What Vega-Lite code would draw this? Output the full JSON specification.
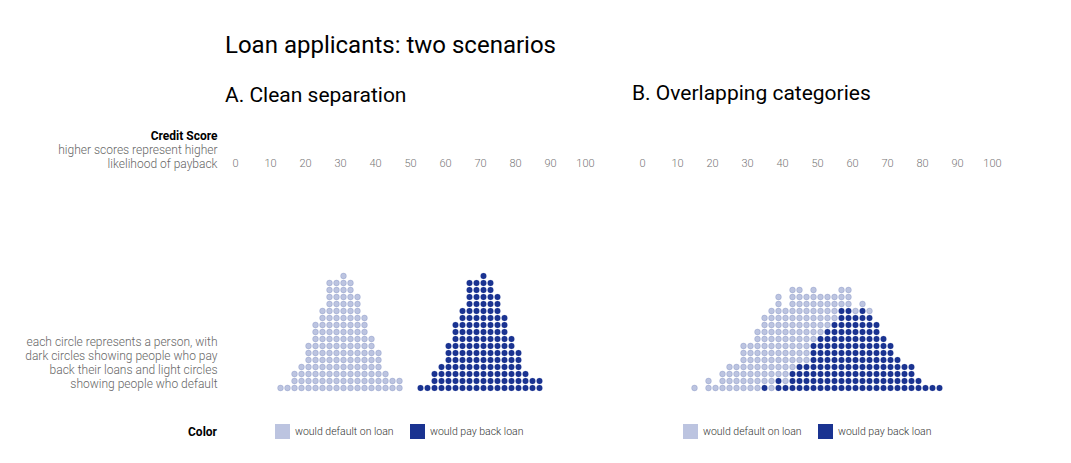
{
"$schema": "https://vega.github.io/schema/vega-lite/v6.json",
"padding": {"left": 24, "top": 34, "right": 5, "bottom": 5},
"background": "white",
"config": {"view": {"stroke": null}, "font": "Roboto"},
"title": {"text": "Loan applicants: two scenarios", "anchor": "start", "frame": "group", "font": "Roboto", "fontSize": 24, "fontWeight": 400, "color": "#000000", "offset": 25},
"bounds": "flush",
"spacing": 37,
"resolve": {"scale": {"color": "independent"}, "legend": {"color": "independent"}},
"datasets": {
"A": [
{"s":13,"o":"d"},
{"s":15,"o":"d"},
{"s":17,"o":"d"},{"s":17,"o":"d"},{"s":17,"o":"d"},
{"s":19,"o":"d"},{"s":19,"o":"d"},{"s":19,"o":"d"},{"s":19,"o":"d"},
{"s":21,"o":"d"},{"s":21,"o":"d"},{"s":21,"o":"d"},{"s":21,"o":"d"},{"s":21,"o":"d"},{"s":21,"o":"d"},{"s":21,"o":"d"},
{"s":23,"o":"d"},{"s":23,"o":"d"},{"s":23,"o":"d"},{"s":23,"o":"d"},{"s":23,"o":"d"},{"s":23,"o":"d"},{"s":23,"o":"d"},{"s":23,"o":"d"},{"s":23,"o":"d"},{"s":23,"o":"d"},
{"s":25,"o":"d"},{"s":25,"o":"d"},{"s":25,"o":"d"},{"s":25,"o":"d"},{"s":25,"o":"d"},{"s":25,"o":"d"},{"s":25,"o":"d"},{"s":25,"o":"d"},{"s":25,"o":"d"},{"s":25,"o":"d"},{"s":25,"o":"d"},{"s":25,"o":"d"},
{"s":27,"o":"d"},{"s":27,"o":"d"},{"s":27,"o":"d"},{"s":27,"o":"d"},{"s":27,"o":"d"},{"s":27,"o":"d"},{"s":27,"o":"d"},{"s":27,"o":"d"},{"s":27,"o":"d"},{"s":27,"o":"d"},{"s":27,"o":"d"},{"s":27,"o":"d"},{"s":27,"o":"d"},{"s":27,"o":"d"},{"s":27,"o":"d"},{"s":27,"o":"d"},
{"s":29,"o":"d"},{"s":29,"o":"d"},{"s":29,"o":"d"},{"s":29,"o":"d"},{"s":29,"o":"d"},{"s":29,"o":"d"},{"s":29,"o":"d"},{"s":29,"o":"d"},{"s":29,"o":"d"},{"s":29,"o":"d"},{"s":29,"o":"d"},{"s":29,"o":"d"},{"s":29,"o":"d"},{"s":29,"o":"d"},{"s":29,"o":"d"},{"s":29,"o":"d"},
{"s":31,"o":"d"},{"s":31,"o":"d"},{"s":31,"o":"d"},{"s":31,"o":"d"},{"s":31,"o":"d"},{"s":31,"o":"d"},{"s":31,"o":"d"},{"s":31,"o":"d"},{"s":31,"o":"d"},{"s":31,"o":"d"},{"s":31,"o":"d"},{"s":31,"o":"d"},{"s":31,"o":"d"},{"s":31,"o":"d"},{"s":31,"o":"d"},{"s":31,"o":"d"},{"s":31,"o":"d"},
{"s":33,"o":"d"},{"s":33,"o":"d"},{"s":33,"o":"d"},{"s":33,"o":"d"},{"s":33,"o":"d"},{"s":33,"o":"d"},{"s":33,"o":"d"},{"s":33,"o":"d"},{"s":33,"o":"d"},{"s":33,"o":"d"},{"s":33,"o":"d"},{"s":33,"o":"d"},{"s":33,"o":"d"},{"s":33,"o":"d"},{"s":33,"o":"d"},{"s":33,"o":"d"},
{"s":35,"o":"d"},{"s":35,"o":"d"},{"s":35,"o":"d"},{"s":35,"o":"d"},{"s":35,"o":"d"},{"s":35,"o":"d"},{"s":35,"o":"d"},{"s":35,"o":"d"},{"s":35,"o":"d"},{"s":35,"o":"d"},{"s":35,"o":"d"},{"s":35,"o":"d"},{"s":35,"o":"d"},{"s":35,"o":"d"},
{"s":37,"o":"d"},{"s":37,"o":"d"},{"s":37,"o":"d"},{"s":37,"o":"d"},{"s":37,"o":"d"},{"s":37,"o":"d"},{"s":37,"o":"d"},{"s":37,"o":"d"},{"s":37,"o":"d"},{"s":37,"o":"d"},{"s":37,"o":"d"},
{"s":39,"o":"d"},{"s":39,"o":"d"},{"s":39,"o":"d"},{"s":39,"o":"d"},{"s":39,"o":"d"},{"s":39,"o":"d"},{"s":39,"o":"d"},{"s":39,"o":"d"},
{"s":41,"o":"d"},{"s":41,"o":"d"},{"s":41,"o":"d"},{"s":41,"o":"d"},{"s":41,"o":"d"},{"s":41,"o":"d"},
{"s":43,"o":"d"},{"s":43,"o":"d"},{"s":43,"o":"d"},
{"s":45,"o":"d"},{"s":45,"o":"d"},
{"s":47,"o":"d"},{"s":47,"o":"d"},
{"s":53,"o":"p"},
{"s":55,"o":"p"},
{"s":57,"o":"p"},{"s":57,"o":"p"},{"s":57,"o":"p"},
{"s":59,"o":"p"},{"s":59,"o":"p"},{"s":59,"o":"p"},{"s":59,"o":"p"},
{"s":61,"o":"p"},{"s":61,"o":"p"},{"s":61,"o":"p"},{"s":61,"o":"p"},{"s":61,"o":"p"},{"s":61,"o":"p"},{"s":61,"o":"p"},
{"s":63,"o":"p"},{"s":63,"o":"p"},{"s":63,"o":"p"},{"s":63,"o":"p"},{"s":63,"o":"p"},{"s":63,"o":"p"},{"s":63,"o":"p"},{"s":63,"o":"p"},{"s":63,"o":"p"},{"s":63,"o":"p"},
{"s":65,"o":"p"},{"s":65,"o":"p"},{"s":65,"o":"p"},{"s":65,"o":"p"},{"s":65,"o":"p"},{"s":65,"o":"p"},{"s":65,"o":"p"},{"s":65,"o":"p"},{"s":65,"o":"p"},{"s":65,"o":"p"},{"s":65,"o":"p"},{"s":65,"o":"p"},
{"s":67,"o":"p"},{"s":67,"o":"p"},{"s":67,"o":"p"},{"s":67,"o":"p"},{"s":67,"o":"p"},{"s":67,"o":"p"},{"s":67,"o":"p"},{"s":67,"o":"p"},{"s":67,"o":"p"},{"s":67,"o":"p"},{"s":67,"o":"p"},{"s":67,"o":"p"},{"s":67,"o":"p"},{"s":67,"o":"p"},{"s":67,"o":"p"},{"s":67,"o":"p"},
{"s":69,"o":"p"},{"s":69,"o":"p"},{"s":69,"o":"p"},{"s":69,"o":"p"},{"s":69,"o":"p"},{"s":69,"o":"p"},{"s":69,"o":"p"},{"s":69,"o":"p"},{"s":69,"o":"p"},{"s":69,"o":"p"},{"s":69,"o":"p"},{"s":69,"o":"p"},{"s":69,"o":"p"},{"s":69,"o":"p"},{"s":69,"o":"p"},{"s":69,"o":"p"},
{"s":71,"o":"p"},{"s":71,"o":"p"},{"s":71,"o":"p"},{"s":71,"o":"p"},{"s":71,"o":"p"},{"s":71,"o":"p"},{"s":71,"o":"p"},{"s":71,"o":"p"},{"s":71,"o":"p"},{"s":71,"o":"p"},{"s":71,"o":"p"},{"s":71,"o":"p"},{"s":71,"o":"p"},{"s":71,"o":"p"},{"s":71,"o":"p"},{"s":71,"o":"p"},{"s":71,"o":"p"},
{"s":73,"o":"p"},{"s":73,"o":"p"},{"s":73,"o":"p"},{"s":73,"o":"p"},{"s":73,"o":"p"},{"s":73,"o":"p"},{"s":73,"o":"p"},{"s":73,"o":"p"},{"s":73,"o":"p"},{"s":73,"o":"p"},{"s":73,"o":"p"},{"s":73,"o":"p"},{"s":73,"o":"p"},{"s":73,"o":"p"},{"s":73,"o":"p"},{"s":73,"o":"p"},
{"s":75,"o":"p"},{"s":75,"o":"p"},{"s":75,"o":"p"},{"s":75,"o":"p"},{"s":75,"o":"p"},{"s":75,"o":"p"},{"s":75,"o":"p"},{"s":75,"o":"p"},{"s":75,"o":"p"},{"s":75,"o":"p"},{"s":75,"o":"p"},{"s":75,"o":"p"},{"s":75,"o":"p"},{"s":75,"o":"p"},
{"s":77,"o":"p"},{"s":77,"o":"p"},{"s":77,"o":"p"},{"s":77,"o":"p"},{"s":77,"o":"p"},{"s":77,"o":"p"},{"s":77,"o":"p"},{"s":77,"o":"p"},{"s":77,"o":"p"},{"s":77,"o":"p"},{"s":77,"o":"p"},
{"s":79,"o":"p"},{"s":79,"o":"p"},{"s":79,"o":"p"},{"s":79,"o":"p"},{"s":79,"o":"p"},{"s":79,"o":"p"},{"s":79,"o":"p"},{"s":79,"o":"p"},
{"s":81,"o":"p"},{"s":81,"o":"p"},{"s":81,"o":"p"},{"s":81,"o":"p"},{"s":81,"o":"p"},{"s":81,"o":"p"},
{"s":83,"o":"p"},{"s":83,"o":"p"},{"s":83,"o":"p"},
{"s":85,"o":"p"},{"s":85,"o":"p"},
{"s":87,"o":"p"},{"s":87,"o":"p"}
],
"B": [
{"s":15,"o":"d"},
{"s":19,"o":"d"},{"s":19,"o":"d"},
{"s":21,"o":"d"},
{"s":23,"o":"d"},{"s":23,"o":"d"},{"s":23,"o":"d"},
{"s":25,"o":"d"},{"s":25,"o":"d"},{"s":25,"o":"d"},{"s":25,"o":"d"},
{"s":27,"o":"d"},{"s":27,"o":"d"},{"s":27,"o":"d"},{"s":27,"o":"d"},
{"s":29,"o":"d"},{"s":29,"o":"d"},{"s":29,"o":"d"},{"s":29,"o":"d"},{"s":29,"o":"d"},{"s":29,"o":"d"},{"s":29,"o":"d"},
{"s":31,"o":"d"},{"s":31,"o":"d"},{"s":31,"o":"d"},{"s":31,"o":"d"},{"s":31,"o":"d"},{"s":31,"o":"d"},{"s":31,"o":"d"},
{"s":33,"o":"d"},{"s":33,"o":"d"},{"s":33,"o":"d"},{"s":33,"o":"d"},{"s":33,"o":"d"},{"s":33,"o":"d"},{"s":33,"o":"d"},{"s":33,"o":"d"},{"s":33,"o":"d"},
{"s":35,"o":"p"},
{"s":35,"o":"d"},{"s":35,"o":"d"},{"s":35,"o":"d"},{"s":35,"o":"d"},{"s":35,"o":"d"},{"s":35,"o":"d"},{"s":35,"o":"d"},{"s":35,"o":"d"},{"s":35,"o":"d"},{"s":35,"o":"d"},
{"s":37,"o":"d"},{"s":37,"o":"d"},{"s":37,"o":"d"},{"s":37,"o":"d"},{"s":37,"o":"d"},{"s":37,"o":"d"},{"s":37,"o":"d"},{"s":37,"o":"d"},{"s":37,"o":"d"},{"s":37,"o":"d"},{"s":37,"o":"d"},{"s":37,"o":"d"},
{"s":39,"o":"p"},{"s":39,"o":"p"},
{"s":39,"o":"d"},{"s":39,"o":"d"},{"s":39,"o":"d"},{"s":39,"o":"d"},{"s":39,"o":"d"},{"s":39,"o":"d"},{"s":39,"o":"d"},{"s":39,"o":"d"},{"s":39,"o":"d"},{"s":39,"o":"d"},{"s":39,"o":"d"},{"s":39,"o":"d"},
{"s":41,"o":"p"},
{"s":41,"o":"d"},{"s":41,"o":"d"},{"s":41,"o":"d"},{"s":41,"o":"d"},{"s":41,"o":"d"},{"s":41,"o":"d"},{"s":41,"o":"d"},{"s":41,"o":"d"},{"s":41,"o":"d"},{"s":41,"o":"d"},{"s":41,"o":"d"},
{"s":43,"o":"p"},{"s":43,"o":"p"},{"s":43,"o":"p"},
{"s":43,"o":"d"},{"s":43,"o":"d"},{"s":43,"o":"d"},{"s":43,"o":"d"},{"s":43,"o":"d"},{"s":43,"o":"d"},{"s":43,"o":"d"},{"s":43,"o":"d"},{"s":43,"o":"d"},{"s":43,"o":"d"},{"s":43,"o":"d"},{"s":43,"o":"d"},
{"s":45,"o":"p"},{"s":45,"o":"p"},{"s":45,"o":"p"},{"s":45,"o":"p"},
{"s":45,"o":"d"},{"s":45,"o":"d"},{"s":45,"o":"d"},{"s":45,"o":"d"},{"s":45,"o":"d"},{"s":45,"o":"d"},{"s":45,"o":"d"},{"s":45,"o":"d"},{"s":45,"o":"d"},{"s":45,"o":"d"},{"s":45,"o":"d"},
{"s":47,"o":"p"},{"s":47,"o":"p"},{"s":47,"o":"p"},{"s":47,"o":"p"},
{"s":47,"o":"d"},{"s":47,"o":"d"},{"s":47,"o":"d"},{"s":47,"o":"d"},{"s":47,"o":"d"},{"s":47,"o":"d"},{"s":47,"o":"d"},{"s":47,"o":"d"},{"s":47,"o":"d"},{"s":47,"o":"d"},
{"s":49,"o":"p"},{"s":49,"o":"p"},{"s":49,"o":"p"},{"s":49,"o":"p"},{"s":49,"o":"p"},{"s":49,"o":"p"},{"s":49,"o":"p"},
{"s":49,"o":"d"},{"s":49,"o":"d"},{"s":49,"o":"d"},{"s":49,"o":"d"},{"s":49,"o":"d"},{"s":49,"o":"d"},{"s":49,"o":"d"},{"s":49,"o":"d"},
{"s":51,"o":"p"},{"s":51,"o":"p"},{"s":51,"o":"p"},{"s":51,"o":"p"},{"s":51,"o":"p"},{"s":51,"o":"p"},{"s":51,"o":"p"},{"s":51,"o":"p"},
{"s":51,"o":"d"},{"s":51,"o":"d"},{"s":51,"o":"d"},{"s":51,"o":"d"},{"s":51,"o":"d"},{"s":51,"o":"d"},
{"s":53,"o":"p"},{"s":53,"o":"p"},{"s":53,"o":"p"},{"s":53,"o":"p"},{"s":53,"o":"p"},{"s":53,"o":"p"},{"s":53,"o":"p"},{"s":53,"o":"p"},{"s":53,"o":"p"},
{"s":53,"o":"d"},{"s":53,"o":"d"},{"s":53,"o":"d"},{"s":53,"o":"d"},{"s":53,"o":"d"},
{"s":55,"o":"p"},{"s":55,"o":"p"},{"s":55,"o":"p"},{"s":55,"o":"p"},{"s":55,"o":"p"},{"s":55,"o":"p"},{"s":55,"o":"p"},{"s":55,"o":"p"},{"s":55,"o":"p"},{"s":55,"o":"p"},
{"s":55,"o":"d"},{"s":55,"o":"d"},{"s":55,"o":"d"},{"s":55,"o":"d"},
{"s":57,"o":"p"},{"s":57,"o":"p"},{"s":57,"o":"p"},{"s":57,"o":"p"},{"s":57,"o":"p"},{"s":57,"o":"p"},{"s":57,"o":"p"},{"s":57,"o":"p"},{"s":57,"o":"p"},{"s":57,"o":"p"},{"s":57,"o":"p"},{"s":57,"o":"p"},
{"s":57,"o":"d"},{"s":57,"o":"d"},{"s":57,"o":"d"},
{"s":59,"o":"p"},{"s":59,"o":"p"},{"s":59,"o":"p"},{"s":59,"o":"p"},{"s":59,"o":"p"},{"s":59,"o":"p"},{"s":59,"o":"p"},{"s":59,"o":"p"},{"s":59,"o":"p"},{"s":59,"o":"p"},{"s":59,"o":"p"},{"s":59,"o":"p"},
{"s":59,"o":"d"},{"s":59,"o":"d"},{"s":59,"o":"d"},
{"s":61,"o":"p"},{"s":61,"o":"p"},{"s":61,"o":"p"},{"s":61,"o":"p"},{"s":61,"o":"p"},{"s":61,"o":"p"},{"s":61,"o":"p"},{"s":61,"o":"p"},{"s":61,"o":"p"},{"s":61,"o":"p"},{"s":61,"o":"p"},
{"s":61,"o":"d"},
{"s":63,"o":"p"},{"s":63,"o":"p"},{"s":63,"o":"p"},{"s":63,"o":"p"},{"s":63,"o":"p"},{"s":63,"o":"p"},{"s":63,"o":"p"},{"s":63,"o":"p"},{"s":63,"o":"p"},{"s":63,"o":"p"},{"s":63,"o":"p"},{"s":63,"o":"p"},
{"s":63,"o":"d"},
{"s":65,"o":"p"},{"s":65,"o":"p"},{"s":65,"o":"p"},{"s":65,"o":"p"},{"s":65,"o":"p"},{"s":65,"o":"p"},{"s":65,"o":"p"},{"s":65,"o":"p"},{"s":65,"o":"p"},{"s":65,"o":"p"},{"s":65,"o":"p"},
{"s":65,"o":"d"},
{"s":67,"o":"p"},{"s":67,"o":"p"},{"s":67,"o":"p"},{"s":67,"o":"p"},{"s":67,"o":"p"},{"s":67,"o":"p"},{"s":67,"o":"p"},{"s":67,"o":"p"},{"s":67,"o":"p"},{"s":67,"o":"p"},
{"s":69,"o":"p"},{"s":69,"o":"p"},{"s":69,"o":"p"},{"s":69,"o":"p"},{"s":69,"o":"p"},{"s":69,"o":"p"},{"s":69,"o":"p"},{"s":69,"o":"p"},
{"s":71,"o":"p"},{"s":71,"o":"p"},{"s":71,"o":"p"},{"s":71,"o":"p"},{"s":71,"o":"p"},{"s":71,"o":"p"},{"s":71,"o":"p"},
{"s":73,"o":"p"},{"s":73,"o":"p"},{"s":73,"o":"p"},{"s":73,"o":"p"},{"s":73,"o":"p"},
{"s":75,"o":"p"},{"s":75,"o":"p"},{"s":75,"o":"p"},{"s":75,"o":"p"},
{"s":77,"o":"p"},{"s":77,"o":"p"},{"s":77,"o":"p"},{"s":77,"o":"p"},
{"s":79,"o":"p"},{"s":79,"o":"p"},
{"s":81,"o":"p"},
{"s":83,"o":"p"},
{"s":85,"o":"p"}
]
},
"hconcat": [
{
"title": {"text": "A. Clean separation", "anchor": "start", "frame": "group", "font": "Roboto", "fontSize": 21, "fontWeight": 400, "color": "#000000", "offset": 23},
"width": 370,
"height": 224,
"data": {"name": "A"},
"transform": [{"window": [{"op": "row_number", "as": "i"}], "groupby": ["s"], "sort": [{"field": "o", "order": "descending"}]}],
"encoding": {
"x": {"field": "s", "type": "quantitative", "scale": {"domain": [-2.857, 102.857], "nice": false, "zero": false},
"axis": {"orient": "top", "values": [0,10,20,30,40,50,60,70,80,90,100], "domain": false, "ticks": false, "tickSize": 0, "grid": false, "labelFlush": false, "labelOverlap": false, "labelPadding": 5, "labelBaseline": "alphabetic", "labelFont": "Roboto", "labelFontSize": 11, "labelFontWeight": 300, "labelColor": "#777777",
"title": "Credit Score", "titleFont": "Roboto", "titleFontSize": 12, "titleFontWeight": "bold", "titleColor": "#000000", "titleAlign": "right", "titleBaseline": "alphabetic", "titleAngle": 0, "titleX": -8, "titleY": -32}},
"color": {"field": "o", "type": "nominal", "scale": {"domain": ["d", "p"], "range": ["#bcc4e0", "#1a3391"]},
"legend": {"orient": "none", "legendX": -37, "legendY": 253, "direction": "horizontal", "title": "Color", "titleOrient": "left", "titleFont": "Roboto", "titleFontSize": 12, "titleFontWeight": "bold", "titleColor": "#000000", "titlePadding": 58, "titleBaseline": "middle", "symbolType": "square", "symbolSize": 225, "symbolStrokeWidth": 0, "symbolOpacity": 1, "labelFont": "Roboto", "labelFontSize": 10.5, "labelFontWeight": 300, "labelColor": "#333333", "labelOffset": 5, "columnPadding": 16, "labelExpr": "datum.value == 'd' ? 'would default on loan' : 'would pay back loan'"}}
},
"layer": [
{
"transform": [{"filter": "datum.o == 'd'"}],
"mark": {"type": "circle", "size": 34, "opacity": 1, "stroke": "#1a3391", "strokeOpacity": 0.22, "strokeWidth": 0.7},
"encoding": {
"y": {"field": "i", "type": "quantitative", "scale": {"domain": [0, 32], "nice": false, "zero": true},
"axis": {"orient": "left", "labels": false, "ticks": false, "domain": false, "grid": false,
"title": ["each circle represents a person, with", "dark circles showing people who pay", "back their loans and light circles", "showing people who default"],
"titleFont": "Roboto", "titleFontSize": 12, "titleFontWeight": 300, "titleColor": "#666666", "titleAngle": 0, "titleAlign": "right", "titleBaseline": "alphabetic", "titleLineHeight": 14, "titleX": -8, "titleY": 174}}
}
},
{
"transform": [{"filter": "datum.o == 'p'"}],
"mark": {"type": "circle", "size": 34, "opacity": 1, "stroke": "#1a3391", "strokeOpacity": 0.22, "strokeWidth": 0.7},
"encoding": {
"y": {"field": "i", "type": "quantitative", "scale": {"domain": [0, 32], "nice": false, "zero": true},
"axis": {"orient": "left", "labels": false, "ticks": false, "domain": false, "grid": false,
"title": ["higher scores represent higher", "likelihood of payback"],
"titleFont": "Roboto", "titleFontSize": 12, "titleFontWeight": 300, "titleColor": "#666666", "titleAngle": 0, "titleAlign": "right", "titleBaseline": "alphabetic", "titleLineHeight": 14, "titleX": -8, "titleY": -18}}
}
}
],
"resolve": {"axis": {"y": "independent"}}
},
{
"title": {"text": "B. Overlapping categories", "anchor": "start", "frame": "group", "font": "Roboto", "fontSize": 21, "fontWeight": 400, "color": "#000000", "offset": 53},
"width": 370,
"height": 224,
"data": {"name": "B"},
"transform": [{"window": [{"op": "row_number", "as": "i"}], "groupby": ["s"], "sort": [{"field": "o", "order": "descending"}]}],
"mark": {"type": "circle", "size": 34, "opacity": 1, "stroke": "#1a3391", "strokeOpacity": 0.22, "strokeWidth": 0.7},
"encoding": {
"x": {"field": "s", "type": "quantitative", "scale": {"domain": [-2.857, 102.857], "nice": false, "zero": false},
"axis": {"orient": "top", "values": [0,10,20,30,40,50,60,70,80,90,100], "domain": false, "ticks": false, "tickSize": 0, "grid": false, "labelFlush": false, "labelOverlap": false, "labelPadding": 5, "labelBaseline": "alphabetic", "labelFont": "Roboto", "labelFontSize": 11, "labelFontWeight": 300, "labelColor": "#777777", "title": null}},
"y": {"field": "i", "type": "quantitative", "scale": {"domain": [0, 32], "nice": false, "zero": true}, "axis": null},
"color": {"field": "o", "type": "nominal", "scale": {"domain": ["d", "p"], "range": ["#bcc4e0", "#1a3391"]},
"legend": {"orient": "none", "legendX": 51, "legendY": 253, "direction": "horizontal", "title": null, "symbolType": "square", "symbolSize": 225, "symbolStrokeWidth": 0, "symbolOpacity": 1, "labelFont": "Roboto", "labelFontSize": 10.5, "labelFontWeight": 300, "labelColor": "#333333", "labelOffset": 5, "columnPadding": 16, "labelExpr": "datum.value == 'd' ? 'would default on loan' : 'would pay back loan'"}}
}
}
]
}
